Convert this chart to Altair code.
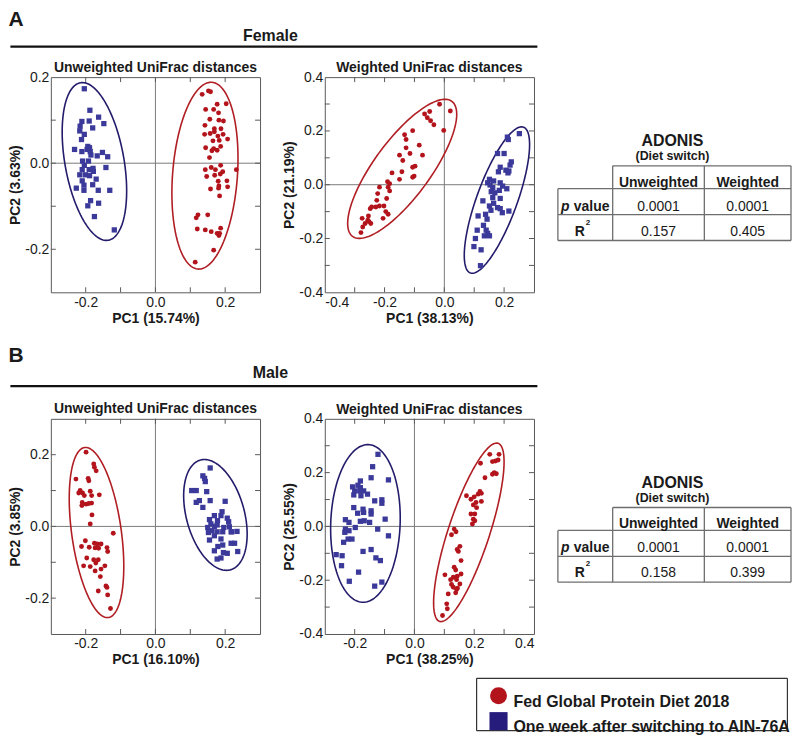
import altair as alt
import numpy as np
import pandas as pd

FONT = "Liberation Sans"
RED = "#B3141C"
BLUE = "#3B3A9A"
RED_EDGE = "#B01E24"
BLUE_EDGE = "#231C6B"
FRAME = "#5a5a5a"
ZERO = "#7a7a7a"
TXT = "#1a1a1a"

# ---------------- data ----------------
FU_RED = [(0.134,0.160),(0.152,0.168),(0.158,0.166),(0.177,0.137),(0.203,0.138),(0.144,0.125),(0.167,0.125),
          (0.181,0.117),(0.156,0.102),(0.182,0.100),(0.195,0.098),(0.142,0.088),(0.169,0.080),(0.188,0.080),
          (0.141,0.067),(0.157,0.069),(0.169,0.073),(0.179,0.063),(0.194,0.067),(0.207,0.056),(0.165,0.052),
          (0.183,0.053),(0.144,0.036),(0.167,0.034),(0.187,0.039),(0.162,0.029),(0.177,0.030),(0.155,0.013),
          (0.187,-0.005),(0.160,-0.010),(0.143,-0.015),(0.172,-0.015),(0.193,-0.020),(0.232,-0.015),(0.147,-0.031),
          (0.170,-0.028),(0.186,-0.025),(0.180,-0.042),(0.205,-0.041),(0.158,-0.060),(0.182,-0.053),(0.207,-0.055),
          (0.181,-0.058),(0.184,-0.076),(0.122,-0.120),(0.117,-0.127),(0.150,-0.120),(0.120,-0.153),(0.143,-0.155),
          (0.160,-0.159),(0.177,-0.163),(0.182,-0.168),(0.187,-0.151),(0.167,-0.202),(0.114,-0.230),(0.184,-0.163)]
FU_BLUE = [(-0.204,0.173),(-0.188,0.123),(-0.163,0.107),(-0.216,0.086),(-0.211,0.097),(-0.190,0.098),(-0.180,0.082),
           (-0.148,0.092),(-0.217,0.075),(-0.204,0.067),(-0.212,0.055),(-0.194,0.039),(-0.189,0.036),(-0.232,0.032),
           (-0.211,0.027),(-0.196,0.032),(-0.187,0.027),(-0.185,0.019),(-0.167,0.017),(-0.152,0.025),(-0.137,0.015),
           (-0.209,0.005),(-0.192,0.005),(-0.204,-0.005),(-0.210,-0.015),(-0.190,-0.015),(-0.179,-0.012),(-0.178,-0.019),
           (-0.142,-0.010),(-0.217,-0.027),(-0.201,-0.027),(-0.189,-0.029),(-0.170,-0.037),(-0.210,-0.041),(-0.205,-0.051),
           (-0.180,-0.050),(-0.227,-0.058),(-0.205,-0.063),(-0.164,-0.063),(-0.131,-0.063),(-0.186,-0.087),(-0.194,-0.099),
           (-0.163,-0.093),(-0.175,-0.124),(-0.118,-0.155)]
FW_RED = [(-0.016,0.299),(0.020,0.274),(-0.049,0.272),(-0.066,0.263),(-0.057,0.249),(-0.046,0.238),(-0.035,0.223),
          (-0.002,0.202),(-0.106,0.201),(-0.133,0.186),(-0.128,0.168),(-0.084,0.147),(-0.128,0.137),(-0.150,0.110),
          (-0.115,0.116),(-0.073,0.110),(-0.139,0.090),(-0.098,0.069),(-0.106,0.065),(-0.175,0.044),(-0.142,0.048),
          (-0.101,0.032),(-0.106,0.028),(-0.150,0.020),(-0.190,0.011),(-0.183,0.004),(-0.188,-0.009),(-0.183,-0.023),
          (-0.217,-0.009),(-0.223,-0.033),(-0.193,-0.051),(-0.226,-0.058),(-0.243,-0.083),(-0.229,-0.083),(-0.217,-0.079),
          (-0.202,-0.079),(-0.248,-0.089),(-0.196,-0.100),(-0.188,-0.110),(-0.254,-0.116),(-0.205,-0.125),(-0.275,-0.125),
          (-0.252,-0.137),(-0.265,-0.144),(-0.246,-0.144),(-0.273,-0.157),(-0.279,-0.178),(-0.256,-0.132)]
FW_BLUE = [(0.251,0.190),(0.211,0.177),(0.214,0.168),(0.178,0.116),(0.200,0.116),(0.224,0.085),(0.220,0.073),
           (0.187,0.065),(0.206,0.054),(0.181,0.048),(0.213,0.044),(0.216,0.051),(0.145,0.007),(0.153,-0.001),
           (0.162,-0.011),(0.187,0.007),(0.195,-0.005),(0.209,-0.015),(0.157,-0.026),(0.169,-0.030),(0.184,-0.021),
           (0.162,-0.048),(0.187,-0.051),(0.129,-0.060),(0.165,-0.069),(0.151,-0.079),(0.178,-0.085),(0.187,-0.089),
           (0.216,-0.098),(0.194,-0.104),(0.156,-0.095),(0.138,-0.110),(0.113,-0.116),(0.143,-0.128),(0.131,-0.151),
           (0.110,-0.169),(0.140,-0.169),(0.145,-0.181),(0.151,-0.190),(0.134,-0.190),(0.104,-0.200),(0.099,-0.230),
           (0.123,-0.242),(0.121,-0.301),(0.165,0.014),(0.151,0.020)]
MU_RED = [(-0.199,0.207),(-0.177,0.174),(-0.175,0.165),(-0.170,0.155),(-0.228,0.132),(-0.193,0.134),(-0.191,0.127),
          (-0.216,0.100),(-0.209,0.093),(-0.220,0.093),(-0.204,0.086),(-0.187,0.098),(-0.183,0.086),(-0.161,0.088),
          (-0.210,0.067),(-0.199,0.062),(-0.191,0.064),(-0.183,0.065),(-0.211,0.058),(-0.182,0.032),(-0.187,0.007),
          (-0.121,-0.019),(-0.201,-0.040),(-0.212,-0.056),(-0.175,-0.047),(-0.167,-0.049),(-0.156,-0.049),(-0.190,-0.058),
          (-0.173,-0.060),(-0.163,-0.061),(-0.139,-0.059),(-0.137,-0.070),(-0.197,-0.088),(-0.177,-0.093),(-0.164,-0.093),
          (-0.206,-0.110),(-0.187,-0.112),(-0.171,-0.102),(-0.145,-0.110),(-0.173,-0.124),(-0.158,-0.140),(-0.164,-0.180),
          (-0.142,-0.166),(-0.139,-0.170),(-0.137,-0.191),(-0.129,-0.229),(-0.156,-0.119)]
MU_BLUE = [(0.157,0.163),(0.136,0.141),(0.141,0.134),(0.143,0.125),(0.104,0.100),(0.117,0.100),(0.147,0.097),
           (0.126,0.072),(0.117,0.067),(0.157,0.072),(0.200,0.070),(0.136,0.053),(0.169,0.030),(0.191,0.041),
           (0.206,0.023),(0.155,0.019),(0.178,0.016),(0.210,0.013),(0.159,0.007),(0.169,0.000),(0.150,-0.003),
           (0.177,0.004),(0.196,-0.003),(0.212,-0.001),(0.162,-0.012),(0.177,-0.015),(0.193,-0.015),(0.219,-0.015),
           (0.234,-0.014),(0.152,-0.017),(0.169,-0.026),(0.155,-0.038),(0.188,-0.035),(0.217,-0.047),(0.227,-0.047),
           (0.179,-0.056),(0.193,-0.052),(0.169,-0.068),(0.195,-0.073),(0.206,-0.075),(0.236,-0.070),(0.177,-0.091),
           (0.188,-0.088),(0.217,-0.015),(0.188,0.030)]
MW_RED = [(0.252,0.268),(0.283,0.268),(0.221,0.235),(0.261,0.241),(0.271,0.243),(0.280,0.247),(0.267,0.200),
          (0.274,0.196),(0.261,0.194),(0.236,0.181),(0.219,0.130),(0.224,0.123),(0.213,0.120),(0.174,0.114),
          (0.200,0.110),(0.189,0.101),(0.206,0.089),(0.224,0.093),(0.197,0.080),(0.208,0.070),(0.189,0.046),
          (0.202,0.046),(0.197,0.027),(0.202,0.021),(0.194,0.009),(0.133,-0.010),(0.139,-0.020),(0.124,-0.031),
          (0.152,-0.074),(0.143,-0.086),(0.147,-0.093),(0.156,-0.127),(0.133,-0.152),(0.138,-0.162),(0.156,-0.177),
          (0.143,-0.185),(0.130,-0.189),(0.121,-0.198),(0.102,-0.180),(0.141,-0.198),(0.124,-0.216),(0.130,-0.226),
          (0.141,-0.235),(0.138,-0.247),(0.113,-0.251),(0.108,-0.288),(0.110,-0.306),(0.094,-0.331),(0.144,-0.230),
          (0.152,-0.214)]
MW_BLUE = [(-0.122,0.268),(-0.140,0.222),(-0.087,0.173),(-0.145,0.181),(-0.181,0.169),(-0.207,0.147),(-0.189,0.153),
           (-0.181,0.144),(-0.200,0.132),(-0.183,0.132),(-0.170,0.132),(-0.203,0.117),(-0.179,0.114),(-0.157,0.120),
           (-0.133,0.095),(-0.109,0.099),(-0.109,0.086),(-0.203,0.070),(-0.172,0.064),(-0.190,0.049),(-0.170,0.052),
           (-0.145,0.058),(-0.145,0.046),(-0.098,0.027),(-0.231,0.025),(-0.219,0.015),(-0.181,0.019),(-0.168,0.021),
           (-0.150,0.015),(-0.198,-0.004),(-0.231,-0.010),(-0.219,-0.016),(-0.233,-0.022),(-0.123,-0.010),(-0.087,-0.035),
           (-0.222,-0.047),(-0.209,-0.047),(-0.237,-0.059),(-0.145,-0.086),(-0.172,-0.093),(-0.262,-0.105),(-0.242,-0.109),
           (-0.244,-0.146),(-0.129,-0.117),(-0.114,-0.127),(-0.187,-0.170),(-0.218,-0.204),(-0.109,-0.207),(-0.133,-0.222)]

# confidence ellipses: centre x, centre y, major-axis tip x, tip y, minor/major ratio
FU_ELL = {"red": (0.142, -0.029, 0.162, 0.188, 0.346), "blue": (-0.175, 0.004, -0.215, 0.187, 0.369)}
FW_ELL = {"red": (-0.141, 0.059, 0.025, 0.310, 0.335), "blue": (0.176, -0.057, 0.265, 0.214, 0.26)}
MU_ELL = {"red": (-0.169, -0.017, -0.203, 0.220, 0.289), "blue": (0.172, 0.032, 0.129, 0.185, 0.51)}
MW_ELL = {"red": (0.182, -0.022, 0.280, 0.309, 0.22), "blue": (-0.164, 0.011, -0.154, 0.304, 0.44)}

PANEL_TITLES = ["Unweighted UniFrac distances", "Weighted UniFrac distances"]
X_TITLES = ["PC1 (15.74%)", "PC1 (38.13%)", "PC1 (16.10%)", "PC1 (38.25%)"]
Y_TITLES = ["PC2 (3.63%)", "PC2 (21.19%)", "PC2 (3.85%)", "PC2 (25.55%)"]
GROUPS = ["Fed Global Protein Diet 2018", "One week after switching to AIN-76A"]
TABLE_COLS = ["Unweighted", "Weighted"]
FEMALE_P = ["0.0001", "0.0001"]
FEMALE_R2 = ["0.157", "0.405"]
MALE_P = ["0.0001", "0.0001"]
MALE_R2 = ["0.158", "0.399"]

# ---------------- layout ----------------
PW, PH = 210, 216
OX = 49.6        # page x of the left plot's left edge
TX0 = 553        # page x of table origin
LBL = "datum.value < 0 ? '-' + format(-datum.value, '.1f') : format(datum.value, '.1f')"


def ellipse_df(params, kx, ky, n=160):
    parts = []
    for g, (cx, cy, tx, ty, r) in params.items():
        mx, my = (tx - cx) * kx, (ty - cy) * ky
        nx, ny = -my * r, mx * r
        t = np.linspace(0, 2 * np.pi, n)
        parts.append(pd.DataFrame({
            "x": cx + (np.cos(t) * mx + np.sin(t) * nx) / kx,
            "y": cy + (np.cos(t) * my + np.sin(t) * ny) / ky,
            "t": np.arange(n), "g": g}))
    return pd.concat(parts, ignore_index=True)


def panel(title, xtitle, ytitle, xdom, ydom, xlab, ylab, red, blue, ell):
    xs = alt.Scale(domain=xdom, nice=False, zero=False)
    ys = alt.Scale(domain=ydom, nice=False, zero=False)
    common = dict(ticks=False, domain=False, grid=False, labelExpr=LBL, labelFont=FONT,
                  labelFontSize=14, labelColor=TXT, titleFont=FONT, titleFontSize=14,
                  titleFontWeight="bold", titleColor=TXT)
    xax = alt.Axis(values=xlab, title=xtitle, labelPadding=3, titlePadding=2, **common)
    yax = alt.Axis(values=ylab, title=ytitle, labelPadding=2, titlePadding=2, **common)

    def X(f):
        return alt.X(f, type="quantitative", scale=xs, axis=xax)

    def Y(f):
        return alt.Y(f, type="quantitative", scale=ys, axis=yax)

    kx = PW / (xdom[1] - xdom[0])
    ky = PH / (ydom[1] - ydom[0])
    xt = [round(v, 1) for v in np.arange(xdom[0] + 0.1, xdom[1] - 0.05, 0.1)]
    yt = [round(v, 1) for v in np.arange(ydom[0] + 0.1, ydom[1] - 0.05, 0.1)]

    zero = pd.DataFrame({"z": [0.0]})
    zx = alt.Chart(zero).mark_rule(color=ZERO, strokeWidth=1).encode(x=X("z"))
    zy = alt.Chart(zero).mark_rule(color=ZERO, strokeWidth=1).encode(y=Y("z"))

    bt = pd.DataFrame({"v": xt, "e": ydom[0]})
    tp = pd.DataFrame({"v": xt, "e": ydom[1]})
    lf = pd.DataFrame({"v": yt, "e": xdom[0]})
    rt = pd.DataFrame({"v": yt, "e": xdom[1]})
    t_b = alt.Chart(bt).mark_rule(color=FRAME, y2Offset=-5).encode(x=X("v"), y=Y("e"), y2="e")
    t_t = alt.Chart(tp).mark_rule(color=FRAME, y2Offset=5).encode(x=X("v"), y=Y("e"), y2="e")
    t_l = alt.Chart(lf).mark_rule(color=FRAME, x2Offset=5).encode(y=Y("v"), x=X("e"), x2="e")
    t_r = alt.Chart(rt).mark_rule(color=FRAME, x2Offset=-5).encode(y=Y("v"), x=X("e"), x2="e")

    edf = ellipse_df(ell, kx, ky)
    el = alt.Chart(edf).mark_line(strokeWidth=1.6, clip=True).encode(
        x=X("x"), y=Y("y"), order="t:Q",
        color=alt.Color("g:N", scale=alt.Scale(domain=["red", "blue"], range=[RED_EDGE, BLUE_EDGE]), legend=None))

    rdf = pd.DataFrame(red, columns=["x", "y"])
    bdf = pd.DataFrame(blue, columns=["x", "y"])
    rp = alt.Chart(rdf).mark_point(shape="circle", filled=True, size=24, color=RED, opacity=1).encode(x=X("x"), y=Y("y"))
    bp = alt.Chart(bdf).mark_point(shape="square", filled=True, size=28, color=BLUE, opacity=1).encode(x=X("x"), y=Y("y"))

    # the top y label sticks out above the frame when it sits on the edge
    toff = -5 if abs(max(ylab) - ydom[1]) < 1e-9 else 2
    return alt.layer(zx, zy, t_b, t_t, t_l, t_r, el, rp, bp).properties(
        width=PW, height=PH,
        title=alt.TitleParams(title, font=FONT, fontSize=14, fontWeight="bold", color=TXT, offset=toff, anchor="middle"),
        view=alt.ViewBackground(stroke=FRAME, strokeWidth=1))


def pxs(n):
    return alt.Scale(domain=[0, n], range=[0, n], nice=False, zero=False)


def texts(df, w, h, **mk):
    return alt.Chart(df).mark_text(font=FONT, color=TXT, **mk).encode(
        x=alt.X("x:Q", scale=pxs(w), axis=None),
        y=alt.Y("y:Q", scale=pxs(h), axis=None),
        text="t:N")


def segs(df, w, h, **mk):
    return alt.Chart(df).mark_rule(**mk).encode(
        x=alt.X("x:Q", scale=pxs(w), axis=None), x2="x2:Q",
        y=alt.Y("y:Q", scale=pxs(h), axis=None), y2="y2:Q")


def header(letter, label, h, letter_y, letter_base, label_y, line_y):
    # y positions are local to this header strip
    w = 738
    a = texts(pd.DataFrame({"x": [7 - OX], "y": [letter_y], "t": [letter]}), w, h,
              fontSize=21, fontWeight="bold", align="left", baseline=letter_base)
    b = texts(pd.DataFrame({"x": [270 - OX], "y": [label_y], "t": [label]}), w, h,
              fontSize=16, fontWeight="bold", align="center", baseline="alphabetic")
    ln = segs(pd.DataFrame({"x": [9 - OX], "x2": [538 - OX], "y": [line_y], "y2": [line_y]}), w, h,
              color="#111111", strokeWidth=2.4)
    return alt.layer(ln, a, b).properties(width=w, height=h)


def table(pv, r2):
    w, h = 237, PH

    def lx(v):
        return v - TX0
    e0, e1, e2, e3 = 555, 610, 702, 789
    yt, yh, yp, yr = 89, 112, 138, 164
    c2, c3 = (e1 + e2) / 2, (e2 + e3) / 2
    lines = pd.DataFrame({
        "x": [lx(e1), lx(e0), lx(e0), lx(e0), lx(e0), lx(e1), lx(e2), lx(e3)],
        "x2": [lx(e3), lx(e3), lx(e3), lx(e3), lx(e0), lx(e1), lx(e2), lx(e3)],
        "y": [yt, yh, yp, yr, yh, yt, yt, yt],
        "y2": [yt, yh, yp, yr, yr, yr, yr, yr]})
    grid = segs(lines, w, h, color="#6e6e6e", strokeWidth=1.3)
    ttl = texts(pd.DataFrame({"x": [lx(670)], "y": [64], "t": ["ADONIS"]}), w, h,
                fontSize=16, fontWeight="bold", align="center")
    sub = texts(pd.DataFrame({"x": [lx(670)], "y": [79], "t": ["(Diet switch)"]}), w, h,
                fontSize=12.5, fontWeight="bold", align="center")
    hdr = texts(pd.DataFrame({"x": [lx(c2), lx(c3)], "y": [106, 106], "t": TABLE_COLS}), w, h,
                fontSize=14, fontWeight="bold", align="center")
    pit = texts(pd.DataFrame({"x": [lx(558)], "y": [130], "t": ["p"]}), w, h,
                fontSize=14, fontWeight="bold", fontStyle="italic", align="left")
    pvl = texts(pd.DataFrame({"x": [lx(571)], "y": [130], "t": ["value"]}), w, h,
                fontSize=14, fontWeight="bold", align="left")
    rr = texts(pd.DataFrame({"x": [lx(572)], "y": [155], "t": ["R"]}), w, h,
               fontSize=14, fontWeight="bold", align="left")
    sup = texts(pd.DataFrame({"x": [lx(583)], "y": [146], "t": ["2"]}), w, h,
                fontSize=8, fontWeight="bold", align="left")
    vals = texts(pd.DataFrame({"x": [lx(c2), lx(c3), lx(c2), lx(c3)], "y": [130, 130, 155, 155],
                               "t": list(pv) + list(r2)}), w, h, fontSize=14, align="center")
    return alt.layer(grid, ttl, sub, hdr, pit, pvl, rr, sup, vals).properties(width=w, height=h)


def legend(h, box_top, box_bot, c_y, s_y, t1_y, t2_y):
    # y positions are local to this strip
    w = 740
    bx0, bx1 = 477 - OX, 789 - OX
    box = segs(pd.DataFrame({"x": [bx0, bx0, bx0, bx1], "x2": [bx1, bx1, bx0, bx1],
                             "y": [box_top, box_bot, box_top, box_top],
                             "y2": [box_top, box_bot, box_bot, box_bot]}), w, h,
               color="#333333", strokeWidth=1.2)
    enc = dict(x=alt.X("x:Q", scale=pxs(w), axis=None), y=alt.Y("y:Q", scale=pxs(h), axis=None))
    circ = alt.Chart(pd.DataFrame({"x": [499 - OX], "y": [c_y]})).mark_point(
        shape="circle", filled=True, size=290, color=RED, opacity=1).encode(**enc)
    sq = alt.Chart(pd.DataFrame({"x": [499 - OX], "y": [s_y]})).mark_point(
        shape="square", filled=True, size=330, color="#251C7C", opacity=1).encode(**enc)
    lab = texts(pd.DataFrame({"x": [514 - OX, 514 - OX], "y": [t1_y, t2_y], "t": GROUPS}), w, h,
                fontSize=16, fontWeight="bold", align="left")
    return alt.layer(box, circ, sq, lab).properties(width=w, height=h)


p1 = panel(PANEL_TITLES[0], X_TITLES[0], Y_TITLES[0], [-0.3, 0.3], [-0.3, 0.2],
           [-0.2, 0.0, 0.2], [-0.2, 0.0, 0.2], FU_RED, FU_BLUE, FU_ELL)
p2 = panel(PANEL_TITLES[1], X_TITLES[1], Y_TITLES[1], [-0.4, 0.3], [-0.4, 0.4],
           [-0.4, -0.2, 0.0, 0.2], [-0.4, -0.2, 0.0, 0.2, 0.4], FW_RED, FW_BLUE, FW_ELL)
p3 = panel(PANEL_TITLES[0], X_TITLES[2], Y_TITLES[2], [-0.3, 0.3], [-0.3, 0.3],
           [-0.2, 0.0, 0.2], [-0.2, 0.0, 0.2], MU_RED, MU_BLUE, MU_ELL)
p4 = panel(PANEL_TITLES[1], X_TITLES[3], Y_TITLES[3], [-0.3, 0.4], [-0.4, 0.4],
           [-0.2, 0.0, 0.2, 0.4], [-0.4, -0.2, 0.0, 0.2, 0.4], MW_RED, MW_BLUE, MW_ELL)

rowA = alt.hconcat(p1, p2, table(FEMALE_P, FEMALE_R2), spacing=21)
rowB = alt.hconcat(p3, p4, table(MALE_P, MALE_R2), spacing=21)

headA = header("A", "Female", 50.5, 0, "top", 31.4, 37.4)
headB = header("B", "Male", 76, 36.2, "alphabetic", 52.2, 60.2)
leg = legend(64.5, 10.5, 63, 28, 53.5, 34, 59.5)

chart = alt.vconcat(headA, rowA, headB, rowB, leg, spacing=0).properties(
    padding={"left": 0, "top": 0, "right": 0, "bottom": 0}
).configure(font=FONT).configure_view(stroke=None)

chart.save("out.html", embed_options={"renderer": "svg", "actions": False})
